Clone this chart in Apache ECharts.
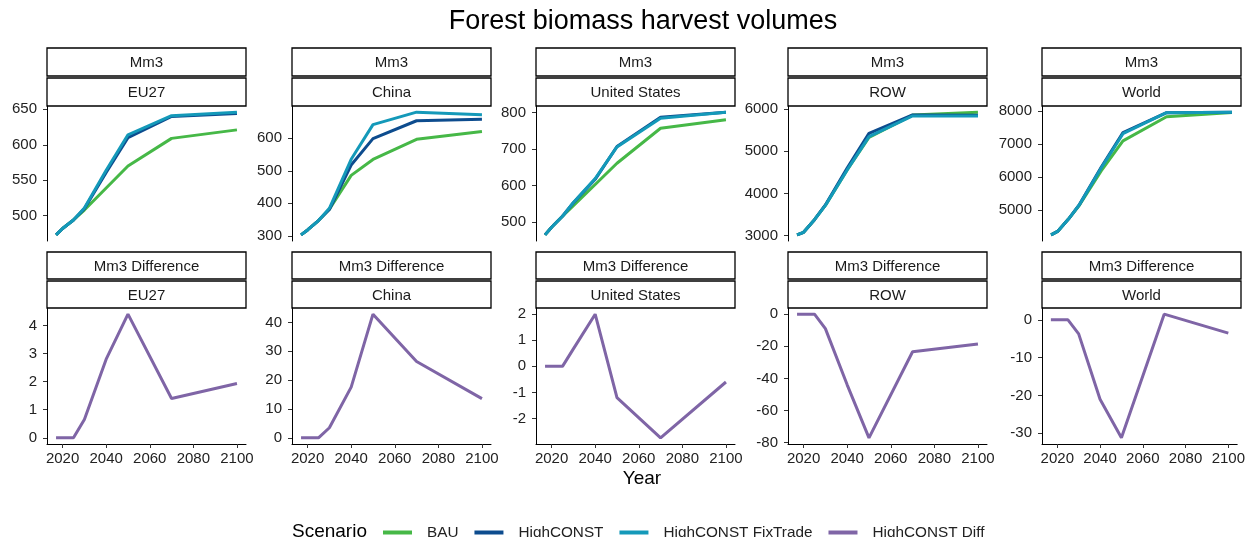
<!DOCTYPE html>
<html>
<head>
<meta charset="utf-8">
<script src="https://cdn.jsdelivr.net/npm/echarts@6/dist/echarts.min.js"></script>
<style>
html,body{margin:0;padding:0;background:#fff;}
#chart{width:1248px;height:537px;}
</style>
</head>
<body>
<div id="chart"></div>
<script>
// ---- data ----
const years = [2017, 2020, 2025, 2030, 2040, 2050, 2070, 2100];
const regions = ['EU27', 'China', 'United States', 'ROW', 'World'];

const bauEU27       = [473, 482, 494, 508, 539, 570, 609, 621];
const highEU27      = [473, 482, 494, 510, 561, 610, 640, 644];
const fixEU27       = [473, 482, 494, 511, 564, 614, 641, 646];
const diffEU27      = [0, 0, 0, 0.65, 2.8, 4.4, 1.4, 1.93];

const bauChina      = [303, 318, 347, 382, 486, 535, 597, 621];
const highChina     = [303, 318, 347, 381, 518, 599, 654, 659];
const fixChina      = [303, 318, 347, 384.5, 535.5, 642, 680.5, 672.5];
const diffChina     = [0, 0, 0, 3.5, 17.6, 42.9, 26.5, 13.6];

const bauUS         = [465, 486, 516, 545, 603, 661, 757, 780];
const highUS        = [465, 486, 516, 553, 617, 707, 787, 801];
const fixUS         = [465, 486, 516, 553.7, 619, 705.8, 784.3, 800.4];
const diffUS        = [0, 0, 0, 0.67, 2.0, -1.2, -2.74, -0.6];

const bauROW        = [3020, 3080, 3380, 3720, 4560, 5330, 5860, 5930];
const highROW       = [3020, 3080, 3380, 3729, 4604, 5427, 5863, 5858];
const fixROW        = [3020, 3080, 3380, 3720, 4560, 5350, 5840, 5840];
const diffROW       = [0, 0, 0, -9, -44, -77, -23.4, -18.5];

const bauWorld      = [4261, 4366, 4737, 5155, 6188, 7096, 7823, 7952];
const highWorld     = [4261, 4366, 4737, 5173, 6300, 7343, 7944, 7962];
const fixWorld      = [4261, 4366, 4737, 5169, 6279, 7312, 7945, 7958];
const diffWorld     = [0, 0, 0, -3.7, -21, -31.2, 1.5, -3.5];

// tick labels
const xTicks = [2020, 2040, 2060, 2080, 2100];
const topTicksEU27  = [500, 550, 600, 650];
const topTicksChina = [300, 400, 500, 600];
const topTicksUS    = [500, 600, 700, 800];
const topTicksROW   = [3000, 4000, 5000, 6000];
const topTicksWorld = [5000, 6000, 7000, 8000];
const botTicksEU27  = [0, 1, 2, 3, 4];
const botTicksChina = [0, 10, 20, 30, 40];
const botTicksUS    = [-2, -1, 0, 1, 2];
const botTicksROW   = [-80, -60, -40, -20, 0];
const botTicksWorld = [-30, -20, -10, 0];

const scenarioNames = ['BAU', 'HighCONST', 'HighCONST FixTrade', 'HighCONST Diff'];
const scenarioColors = ['#46b847', '#0d4c8e', '#1499b9', '#7f65a6'];

// ---- layout ----
const FONT = 'Liberation Sans';
const colLeft = [47, 292, 536, 788, 1042];
const colWidth = 199;
const topGrid = {top: 106, height: 135};
const botGrid = {top: 308, height: 136};

const topSets = [
  [bauEU27, highEU27, fixEU27],
  [bauChina, highChina, fixChina],
  [bauUS, highUS, fixUS],
  [bauROW, highROW, fixROW],
  [bauWorld, highWorld, fixWorld]
];
const diffSets = [diffEU27, diffChina, diffUS, diffROW, diffWorld];
const topTicks = [topTicksEU27, topTicksChina, topTicksUS, topTicksROW, topTicksWorld];
const botTicks = [botTicksEU27, botTicksChina, botTicksUS, botTicksROW, botTicksWorld];

const span = years[years.length - 1] - years[0];
const xMin = years[0] - 0.05 * span;
const xMax = years[years.length - 1] + 0.05 * span;

const grid = [], xAxis = [], yAxis = [], series = [], graphic = [];
const pairs = v => years.map((y, i) => [y, v[i]]);
const expMin = v => v.min - 0.05 * (v.max - v.min);
const expMax = v => v.max + 0.05 * (v.max - v.min);
const plain = v => String(v);

function strip(x, y, w, h, text) {
  graphic.push({
    type: 'rect', shape: {x: x, y: y, width: w, height: h},
    style: {fill: '#fff', stroke: '#000', lineWidth: 1.3}, silent: true
  });
  graphic.push({
    type: 'text', x: x + w / 2, y: y + h / 2 + 1,
    style: {text: text, fill: '#1a1a1a', font: '15px "' + FONT + '"', align: 'center', verticalAlign: 'middle'},
    silent: true
  });
}

for (let r = 0; r < 2; r++) {
  for (let c = 0; c < 5; c++) {
    const g = r === 0 ? topGrid : botGrid;
    const idx = r * 5 + c;
    grid.push({left: colLeft[c], top: g.top, width: colWidth, height: g.height, containLabel: false});
    xAxis.push({
      type: 'value', gridIndex: idx, min: xMin, max: xMax,
      show: r === 1,
      splitLine: {show: false},
      axisLine: {show: r === 1, onZero: false, lineStyle: {color: '#000', width: 1}},
      axisTick: {show: r === 1, length: 4, customValues: xTicks, lineStyle: {color: '#333'}},
      axisLabel: {show: r === 1, customValues: xTicks, formatter: plain, margin: 7, fontSize: 15, fontFamily: FONT, color: '#222'}
    });
    yAxis.push({
      type: 'value', gridIndex: idx, min: expMin, max: expMax, scale: true,
      splitLine: {show: false},
      axisLine: {show: true, onZero: false, lineStyle: {color: '#000', width: 1}},
      axisTick: {show: true, length: 4, customValues: r === 0 ? topTicks[c] : botTicks[c], lineStyle: {color: '#333'}},
      axisLabel: {customValues: r === 0 ? topTicks[c] : botTicks[c], formatter: plain, margin: 10, fontSize: 15, fontFamily: FONT, color: '#222'}
    });
    if (r === 0) {
      topSets[c].forEach((v, k) => {
        series.push({
          name: scenarioNames[k], type: 'line', xAxisIndex: idx, yAxisIndex: idx,
          data: pairs(v), showSymbol: false, symbol: 'none',
          lineStyle: {width: 3, color: scenarioColors[k], cap: 'butt'}, itemStyle: {color: scenarioColors[k]},
          z: 2 + k
        });
      });
      strip(colLeft[c], 48, colWidth, 28, 'Mm3');
      strip(colLeft[c], 78, colWidth, 28, regions[c]);
    } else {
      series.push({
        name: scenarioNames[3], type: 'line', xAxisIndex: idx, yAxisIndex: idx,
        data: pairs(diffSets[c]), showSymbol: false, symbol: 'none',
        lineStyle: {width: 3, color: scenarioColors[3], cap: 'butt'}, itemStyle: {color: scenarioColors[3]},
        z: 2
      });
      strip(colLeft[c], 252, colWidth, 27, 'Mm3 Difference');
      strip(colLeft[c], 281, colWidth, 27, regions[c]);
    }
  }
}

graphic.push({
  type: 'text', x: 643, y: 22,
  style: {text: 'Forest biomass harvest volumes', fill: '#000', font: '27px "' + FONT + '"', align: 'center', verticalAlign: 'middle'},
  silent: true
});
graphic.push({
  type: 'text', x: 292, y: 532,
  style: {text: 'Scenario', fill: '#000', font: '19px "' + FONT + '"', align: 'left', verticalAlign: 'middle'},
  silent: true
});
graphic.push({
  type: 'text', x: 642, y: 479,
  style: {text: 'Year', fill: '#000', font: '19px "' + FONT + '"', align: 'center', verticalAlign: 'middle'},
  silent: true
});

const chart = echarts.init(document.getElementById('chart'), null, {renderer: 'canvas'});
chart.setOption({
  animation: false,
  backgroundColor: '#fff',
  grid: grid,
  xAxis: xAxis,
  yAxis: yAxis,
  series: series,
  graphic: graphic,
  legend: {
    data: scenarioNames, left: 378, top: 520, itemWidth: 29, itemHeight: 4, icon: 'rect', itemGap: 16,
    textStyle: {fontSize: 15.3, fontFamily: FONT, color: '#222', padding: [0, 0, 0, 10]}
  }
});
</script>
</body>
</html>
